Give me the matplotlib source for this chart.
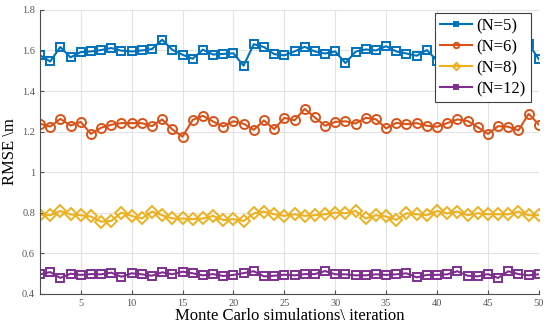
import numpy as np
from matplotlib import pyplot as plt

# iteration index and RMSE values
iteration = np.arange(1, 51)

rmse_n5 = [1.576, 1.546, 1.617, 1.566, 1.592, 1.595, 1.602, 1.612, 1.599, 1.595,
           1.600, 1.607, 1.653, 1.603, 1.579, 1.559, 1.604, 1.580, 1.583, 1.586,
           1.525, 1.631, 1.617, 1.582, 1.576, 1.595, 1.618, 1.595, 1.585, 1.595,
           1.538, 1.594, 1.605, 1.600, 1.621, 1.595, 1.585, 1.574, 1.602, 1.550,
           1.590, 1.580, 1.600, 1.590, 1.570, 1.600, 1.580, 1.590, 1.632, 1.557]

rmse_n6 = [1.239, 1.225, 1.263, 1.230, 1.248, 1.189, 1.219, 1.234, 1.242, 1.242,
           1.242, 1.227, 1.260, 1.211, 1.175, 1.258, 1.278, 1.250, 1.225, 1.251,
           1.239, 1.209, 1.255, 1.212, 1.268, 1.256, 1.312, 1.270, 1.229, 1.248,
           1.251, 1.240, 1.268, 1.261, 1.216, 1.243, 1.237, 1.242, 1.229, 1.224,
           1.242, 1.260, 1.253, 1.222, 1.189, 1.227, 1.224, 1.206, 1.288, 1.235]

rmse_n8 = [0.790, 0.788, 0.809, 0.792, 0.788, 0.782, 0.756, 0.760, 0.801, 0.785,
           0.772, 0.806, 0.788, 0.772, 0.772, 0.769, 0.772, 0.785, 0.764, 0.769,
           0.760, 0.797, 0.806, 0.793, 0.785, 0.793, 0.785, 0.788, 0.793, 0.801,
           0.798, 0.809, 0.772, 0.788, 0.782, 0.765, 0.798, 0.793, 0.788, 0.809,
           0.797, 0.806, 0.788, 0.798, 0.793, 0.793, 0.793, 0.806, 0.788, 0.788]

rmse_n12 = [0.497, 0.508, 0.479, 0.500, 0.494, 0.498, 0.497, 0.505, 0.485, 0.502,
            0.497, 0.490, 0.507, 0.497, 0.510, 0.502, 0.492, 0.498, 0.489, 0.494,
            0.503, 0.512, 0.487, 0.490, 0.495, 0.492, 0.498, 0.498, 0.513, 0.497,
            0.497, 0.492, 0.492, 0.497, 0.494, 0.497, 0.502, 0.482, 0.494, 0.494,
            0.497, 0.512, 0.490, 0.487, 0.498, 0.479, 0.512, 0.498, 0.492, 0.497]

labels = ["(N=5)", "(N=6)", "(N=8)", "(N=12)"]
series = [rmse_n5, rmse_n6, rmse_n8, rmse_n12]
colors = ["#0072BD", "#D95319", "#EDB120", "#7E2F8E"]
markers = ["s", "o", "D", "s"]
msizes = [5.5, 6.5, 6.0, 5.5]

plt.rcParams["font.family"] = ["Liberation Serif", "DejaVu Serif"]

fig = plt.figure(figsize=(5.5, 3.29), dpi=100)
ax = fig.add_axes([0.0727, 0.1064, 0.907, 0.8636])

for y, lab, c, m, ms in zip(series, labels, colors, markers, msizes):
    ax.plot(iteration, y, color=c, lw=1.5, marker=m, ms=ms, mfc="none",
            mew=1.4, label=lab)

ax.set_xlim(1, 50)
ax.set_ylim(0.4, 1.8)
ax.set_xticks([5, 10, 15, 20, 25, 30, 35, 40, 45, 50])
ax.set_yticks([0.4, 0.6, 0.8, 1.0, 1.2, 1.4, 1.6, 1.8])
ax.set_yticklabels(["0.4", "0.6", "0.8", "1", "1.2", "1.4", "1.6", "1.8"])
ax.grid(True, color="#e3e3e3", lw=0.8)
ax.set_axisbelow(True)
ax.tick_params(direction="in", length=3, labelsize=7.5, colors="#4d4d4d",
               labelcolor="#555555")
for s in ["top", "right"]:
    ax.spines[s].set_visible(False)
for s in ["left", "bottom"]:
    ax.spines[s].set_color("#4d4d4d")
    ax.spines[s].set_linewidth(0.8)

ax.set_xlabel("Monte Carlo simulations\\ iteration", fontsize=12, labelpad=0)
ax.set_ylabel("RMSE \\m", fontsize=12, labelpad=3)

leg = ax.legend(loc="upper right", bbox_to_anchor=(0.984, 0.989), fontsize=12,
                fancybox=False, framealpha=1, edgecolor="#404040",
                handlelength=1.9, handletextpad=0.3, borderpad=0.3,
                labelspacing=0.3, markerscale=0.6, borderaxespad=0)
leg.get_frame().set_linewidth(0.8)

fig.savefig("out.png", dpi=100)
